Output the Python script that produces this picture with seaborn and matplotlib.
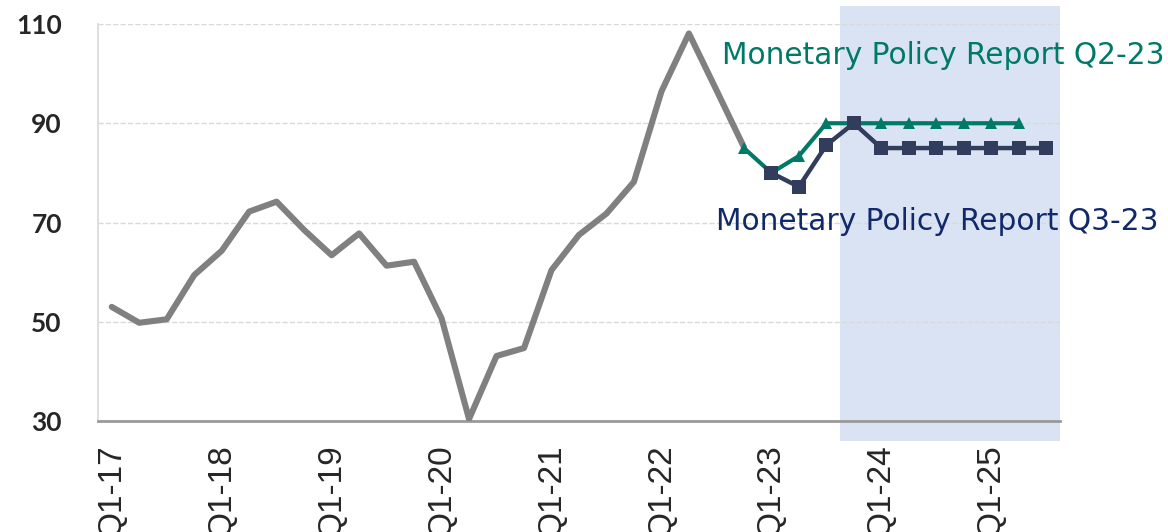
import pandas as pd
import matplotlib.pyplot as plt
import seaborn as sns
from matplotlib.patches import Rectangle

# Quarters Q1-17 .. Q3-25
quarters = [f'Q{q}-{y}' for y in range(17, 26) for q in range(1, 5)][:35]

# Actual series (gray), Q1-17 .. Q4-22
actual = [53.0, 49.8, 50.5, 59.4, 64.3, 72.2, 74.2, 68.5, 63.4, 67.8, 61.3, 62.1,
          50.7, 30.4, 43.1, 44.7, 60.4, 67.5, 71.8, 78.2, 96.4, 108.1, 96.7, 85.2]

# Monetary Policy Report Q2-23 (starts Q4-22, ends Q2-25)
mpr_q2 = [85.0, 80.0, 83.4, 90, 90, 90, 90, 90, 90, 90, 90]
# Monetary Policy Report Q3-23 (starts Q1-23, ends Q3-25)
mpr_q3 = [80.0, 77.2, 85.6, 90, 85, 85, 85, 85, 85, 85, 85]

df_actual = pd.DataFrame({'x': range(len(actual)), 'y': actual})
df_q2 = pd.DataFrame({'x': range(23, 23 + len(mpr_q2)), 'y': mpr_q2})
df_q3 = pd.DataFrame({'x': range(24, 24 + len(mpr_q3)), 'y': mpr_q3})

sns.set_style('white')
plt.rcParams['font.family'] = ['Lato', 'DejaVu Sans']

fig = plt.figure(figsize=(11.68, 5.32), dpi=100)
ax = fig.add_axes([0.0839, 0.2086, 0.8236, 0.7463])

green = '#007a66'
navy = '#323c5c'

# forecast period shading
ax.add_patch(Rectangle((26.5, 26.0), 8.0, 87.6, facecolor='#dae3f3',
                       edgecolor='none', zorder=0.2, clip_on=False))

sns.lineplot(data=df_actual, x='x', y='y', ax=ax, color='#808080', linewidth=4.4,
             zorder=3)
sns.lineplot(data=df_q2, x='x', y='y', ax=ax, color=green, linewidth=3.0,
             marker='^', markersize=9, markeredgewidth=0, zorder=4)
sns.lineplot(data=df_q3, x='x', y='y', ax=ax, color=navy, linewidth=3.2,
             marker='s', markersize=9.5, markeredgewidth=0, zorder=5)

ax.text(22.2, 103.6, 'Monetary Policy Report Q2-23', color=green, fontsize=21.3,
        ha='left', va='center', family='DejaVu Sans')
ax.text(22.0, 70.3, 'Monetary Policy Report Q3-23', color='#11296b', fontsize=21.3,
        ha='left', va='center', family='DejaVu Sans')

ax.set_xlim(-0.5, 34.5)
ax.set_ylim(30, 110)
ax.set_yticks([30, 50, 70, 90, 110])
ax.set_xticks(range(0, 35, 4))
ax.set_xticklabels([quarters[i] for i in range(0, 35, 4)], rotation=90,
                   family='Liberation Sans', fontsize=24)
ax.tick_params(axis='x', length=0, pad=17)
ax.tick_params(axis='y', length=0, pad=26, labelsize=19)
for lab in ax.get_yticklabels():
    lab.set_horizontalalignment('right')
    lab.set_fontweight('bold')
ax.set_xlabel('')
ax.set_ylabel('')

ax.grid(axis='y', color='#d9d9d9', linestyle='--', linewidth=1.0)
ax.set_axisbelow(True)
for s in ['top', 'right']:
    ax.spines[s].set_visible(False)
ax.spines['left'].set_color('#d9d9d9')
ax.spines['left'].set_linewidth(1.2)
ax.spines['bottom'].set_color('#9a9a9a')
ax.spines['bottom'].set_linewidth(2.0)

fig.savefig('out.png', dpi=100)
